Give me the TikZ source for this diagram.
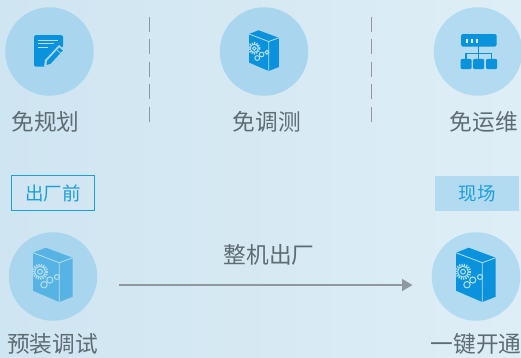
\documentclass[tikz,border=0pt]{standalone}
\usepackage{fontspec}
\setmainfont{Noto Sans CJK SC}
\usepackage{tikz}
\usetikzlibrary{arrows.meta}
\definecolor{bgleft}{HTML}{CFE5F1}
\definecolor{bgright}{HTML}{DEEEF6}
\definecolor{disc}{HTML}{A9D6EE}
\definecolor{discr}{HTML}{B2DAF0}
\definecolor{iconblue}{HTML}{0A93DC}
\definecolor{iconpale}{HTML}{56B3E3}
\definecolor{tagblue}{HTML}{1C9FE0}
\definecolor{labelgrey}{HTML}{5F6C74}
\definecolor{rulegrey}{HTML}{8F989E}
\tikzstyle{disk} = [circle, minimum size=88.5pt, inner sep=0pt, fill=disc]
\tikzstyle{title} = [font=\fontsize{22.7}{23}\selectfont, text=labelgrey, inner sep=0pt]
\tikzstyle{tagtext} = [minimum width=83.5pt, minimum height=34.5pt, inner sep=0pt, font=\fontsize{18.5}{19}\selectfont, text=tagblue]
\tikzstyle{arrow} = [line width=1.5pt, rulegrey, -{Triangle[length=10.5pt,width=12pt]}]
\tikzstyle{divider} = [line width=1pt, rulegrey, dash pattern=on 15pt off 7.6pt]
\tikzstyle{gear} = [white!70!iconblue, line width=1pt]
\tikzset{
  boxicon/.pic={
    \fill[pic actions] (-20,-23.3) -- (-7.3,-28.3) -- (19.7,-18.3) -- (19.7,20.7) -- (6.3,26) -- (-20,14.7) -- cycle;
    \draw[gear, line width=0.8pt, line join=round] (-20,-23.3) -- (6.3,-13.3) -- (19.7,-18.3) (6.3,-13.3) -- (6.3,26);
    % big gear and the small ones
    \draw[gear] (-13,-4.3) circle (2.4);
    \draw[gear, line width=2.2pt, dash pattern=on 1.2pt off 1.2pt] (-13,-4.3) circle (7);
    \draw[gear] (-13,-4.3) circle (5.4);
    \draw[gear] (-3.2,4) circle (3.1);
    \draw[gear] (4,1) circle (2.5);
    \draw[gear] (-9,8.7) circle (3.2);
  }
}
\begin{document}
\begin{tikzpicture}[x=1pt, y=-1pt]
\useasboundingbox (0,0) rectangle (521,357);
\shade[left color=bgleft, right color=bgright] (0,0) rectangle (521,357);

\node (plandisk) [disk] at (49.5,51.5) {};
\node (testdisk) [disk] at (264,51.5) {};
\node (opsdisk) [disk, fill=discr] at (478,51.5) {};
\node (presetdisk) [disk] at (53,276.5) {};
\node (startdisk) [disk, fill=discr] at (476,276.5) {};

\node (plantitle) [title] at (45.5,122) {免规划};
\node (testtitle) [title] at (267,122) {免调测};
\node (opstitle) [title] at (484,122) {免运维};
\node (presettitle) [title] at (52.5,344) {预装调试};
\node (starttitle) [title] at (476,344) {一键开通};
\node (shiptitle) [title] at (269,255) {整机出厂};

\node (pretag) [tagtext, draw=tagblue, line width=1.1pt] at (53,193) {出厂前};
\node (sitetag) [tagtext, fill=discr] at (477,193.5) {现场};

\coordinate (leftrulea) at (149.5,16.5);
\coordinate (leftruleb) at (149.5,122.5);
\coordinate (rightrulea) at (371,16.5);
\coordinate (rightruleb) at (371,122.5);
\draw [divider] (leftrulea) -- (leftruleb);
\draw [divider] (rightrulea) -- (rightruleb);

\coordinate (shipstart) at (119,285);
\coordinate (shipend) at (412.5,285);
\draw [arrow] (shipstart) -- (shipend);

% note icon
\fill[iconblue, rounded corners=1.5pt] (34,35) -- (63,35) -- (63,47) -- (50,62) -- (46,66.7) -- (34,66.7) -- cycle;
\draw[gear, line width=1pt] (38,40) -- (57.5,40) (38,43.6) -- (54,43.6) (38,47.5) -- (48,47.5);
\fill[disc] (44,66.7) -- (45,60) -- (59,45) -- (65,50) -- (51,65.5) -- (50,66.7) -- cycle;
\fill[iconblue] (46.5,65) -- (47,60.8) -- (59.2,47.5) -- (62.8,50.5) -- (50.5,63.8) -- cycle;
\draw[disc, line width=0.7pt] (56.8,50) -- (60.6,53.2);

% network icon
\fill[iconblue, rounded corners=1.5pt] (461,34) rectangle (496.5,46.5);
\foreach \dotx in {466.5,471.5,476.5}
  \fill[white!85!iconblue] (\dotx-1,38.5) rectangle (\dotx+1,42.5);
\draw[iconblue, line width=1.7pt] (478.5,46) -- (478.5,60) (466,60) -- (466,53.5) -- (491.5,53.5) -- (491.5,60);
\foreach \boxx in {460.5,473,486}
  \fill[iconblue, rounded corners=2pt] (\boxx,58.8) rectangle (\boxx+11.2,69.2);

\pic[iconblue, fill=iconblue, scale=0.75] at (264,51.5) {boxicon};
\pic[fill=iconpale] at (53,276) {boxicon};
\pic[fill=iconblue] at (476,276) {boxicon};

\end{tikzpicture}
\end{document}
